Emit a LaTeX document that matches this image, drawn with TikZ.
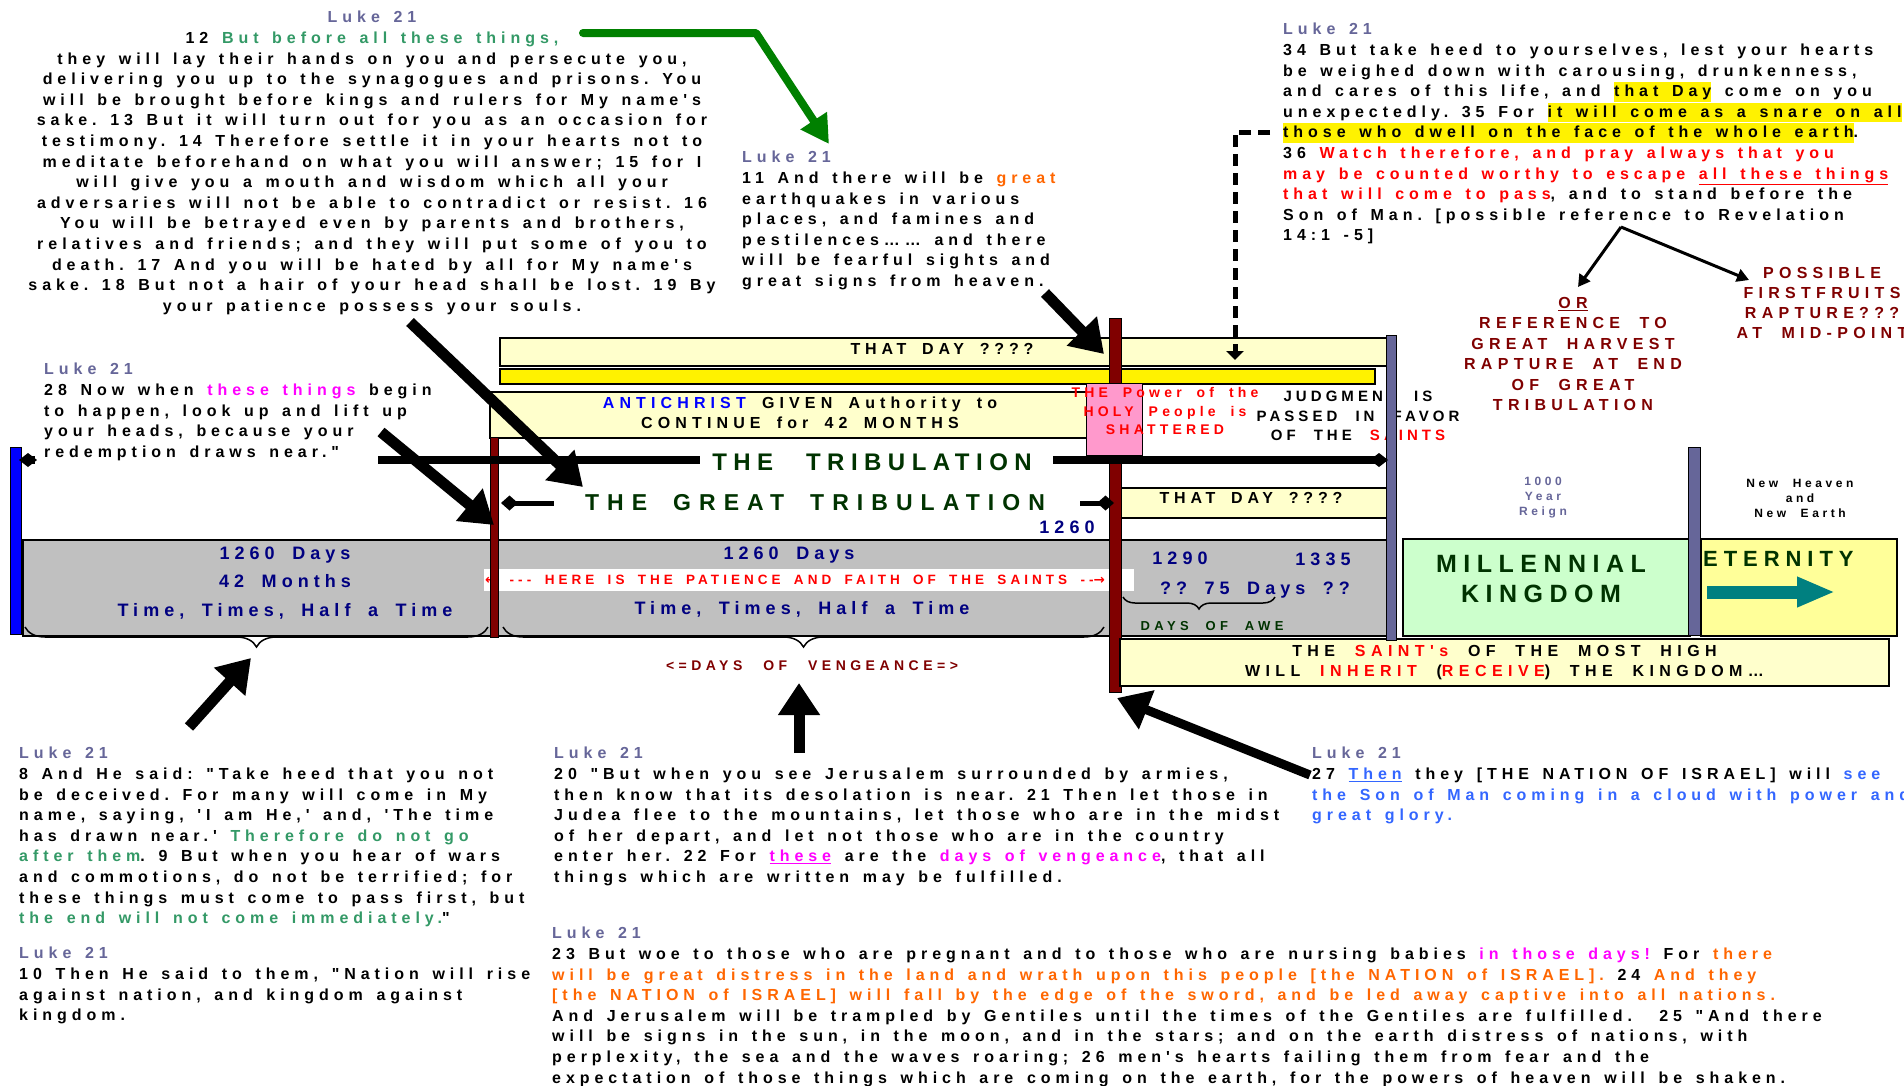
\documentclass[tikz,border=0pt]{standalone}
\usepackage{fontspec}
\setmainfont{Liberation Sans}[Ligatures=TeXOff]
\newfontfamily\arrowfont{DejaVu Sans}
\usetikzlibrary{arrows.meta,decorations.pathreplacing}

\definecolor{lukeblue}{HTML}{666699}
\definecolor{versegreen}{HTML}{339966}
\definecolor{verseorange}{HTML}{FF6600}
\definecolor{versepink}{HTML}{FF00FF}
\definecolor{verseblue}{HTML}{3366FF}
\definecolor{antiblue}{HTML}{0000FF}
\definecolor{deepred}{HTML}{800000}
\definecolor{navyblue}{HTML}{000080}
\definecolor{titlegreen}{HTML}{003300}
\definecolor{paleyellow}{HTML}{FFFFCC}
\definecolor{barpurple}{HTML}{666699}
\definecolor{bandgray}{HTML}{C0C0C0}
\definecolor{holypink}{HTML}{FF99CC}
\definecolor{kingdomgreen}{HTML}{CCFFCC}
\definecolor{eternyellow}{HTML}{FFFF99}
\definecolor{arrowteal}{HTML}{008080}
\definecolor{arrowgreen}{HTML}{008000}

\newcommand\spaced[2]{\addfontfeatures{LetterSpace=#1}\spaceskip=#2\fontdimen2\font\relax\xspaceskip=\spaceskip}
\newcommand\capsfont[4][1.45]{\fontsize{#2}{#3}\selectfont\bfseries\spaced{#4}{#1}}
\newcommand\marked[1]{{\setlength\fboxsep{0pt}\colorbox{yellow}{\rule[-5pt]{0pt}{19.5pt}#1}}}

\begin{document}
\begin{tikzpicture}[x=1pt,y=-1pt,
    verse/.style={font=\capsfont{16}{20.6}{31}, align=left, anchor=north west, inner sep=0pt},
    title/.style={inner sep=0pt, align=center},
    panel/.style={draw=black, line width=2pt, anchor=north west, inner sep=0pt},
    post/.style={draw=black, line width=0.6pt, anchor=north west, inner sep=0pt},
    tribline/.style={line width=8pt},
    greatline/.style={line width=5pt},
    bigarrow/.style={line width=11pt, -{Triangle[length=32pt,width=40pt]}},
    thinarrow/.style={line width=3pt, -{Triangle[length=12pt,width=13pt]}},
    brace/.style={decorate, decoration={brace, mirror, amplitude=#1}, line width=1.5pt}]
    \useasboundingbox (0,0) rectangle (1904,1085);
    \fill[white] (0,0) rectangle (1904,1085);

    % timeline
    \node[panel, fill=bandgray, minimum width=1365, minimum height=96] (band) at (22,539) {};
    \node[panel, fill=paleyellow, minimum width=887, minimum height=28] (dayTop) at (499,337) {};
    \node[title, font={\capsfont[1.7]{16}{16}{30}}] (dayTopText) at (942,349) {THAT DAY ????};
    \node[panel, fill=yellow, minimum width=875, minimum height=15] (yellowBar) at (499,368) {};
    \node[panel, fill=paleyellow, minimum width=597, minimum height=46] (antiBox) at (489,391) {};
    \node[title, font={\capsfont[1.7]{16}{20}{32}}] (antiText) at (800,413) {\textcolor{antiblue}{ANTICHRIST} GIVEN Authority to\\CONTINUE for 42 MONTHS};
    \node[panel, fill=paleyellow, minimum width=274, minimum height=30] (dayLow) at (1114,487) {};
    \node[title, font={\capsfont[1.7]{16}{16}{30}}] (dayLowText) at (1251,498) {THAT DAY ????};
    \node[anchor=north west, fill=white, minimum width=650, minimum height=22, inner sep=0pt] (patience) at (484,569) {};
    \node[title, text=red, font={\capsfont[1.7]{13.5}{13.5}{30}}] (patienceText) at (795,580) {{\arrowfont ←} ---\quad HERE IS THE PATIENCE AND FAITH OF THE SAINTS --{\arrowfont →}};

    \node[post, fill=deepred, minimum width=8, minimum height=200] (redA) at (490,437) {};
    \node[post, fill=deepred, minimum width=12, minimum height=374] (redB) at (1109,318) {};
    \node[post, fill=holypink, minimum width=56, minimum height=72] (holy) at (1086,383) {};
    \node[post, fill=blue, minimum width=11, minimum height=187] (blueBar) at (10,447) {};
    \node[title, text=red, font={\capsfont[1.85]{14}{18.5}{30}}] (holyText) at (1165,411) {THE Power of the\\HOLY People is\\SHATTERED};
    \node[title, font={\capsfont[2.2]{15}{19.5}{27}}] (judgment) at (1358,416) {JUDGMENT IS\\PASSED IN FAVOR\\OF THE \textcolor{red}{SAINTS}};

    % kingdom and eternity
    \node[panel, fill=kingdomgreen, minimum width=287, minimum height=97] (kingdom) at (1402,538) {};
    \node[title, text=titlegreen, font=\capsfont{25}{30}{26}] (kingdomText) at (1541,579) {MILLENNIAL\\KINGDOM};
    \node[panel, fill=eternyellow, minimum width=196, minimum height=97] (eternity) at (1700,538) {};
    \node[title, anchor=west, text=titlegreen, font=\capsfont{22}{22}{27}] (eternityText) at (1703,559) {ETERNITY};
    \node[panel, fill=paleyellow, minimum width=769, minimum height=47, align=center, font={\capsfont[2]{16}{20}{34}}] (saints) at (1119,638) {THE \textcolor{red}{SAINT's} OF THE MOST HIGH\\WILL \textcolor{red}{INHERIT} (\textcolor{red}{RECEIVE}) THE KINGDOM…};
    \node[post, fill=barpurple, minimum width=10, minimum height=305] (purpleA) at (1386,335) {};
    \node[post, fill=barpurple, minimum width=12, minimum height=188] (purpleB) at (1688,447) {};
    \node[title, text=lukeblue, font={\capsfont[2.1]{12}{15}{30}}] (reign) at (1543,498) {1000\\Year\\Reign};
    \node[title, font={\capsfont[2.1]{12}{15}{30}}] (newEarth) at (1800,498) {New Heaven\\and\\New Earth};

    % band labels
    \node[title, text=navyblue, font={\capsfont[1.75]{18}{28.5}{28}}] (firstHalf) at (285,583) {1260 Days\\42 Months\\Time, Times, Half a Time};
    \node[title, text=navyblue, font={\capsfont[1.75]{18}{18}{28}}] (secondDays) at (789,555) {1260 Days};
    \node[title, text=navyblue, font={\capsfont[1.75]{18}{18}{28}}] (secondTime) at (802,609) {Time, Times, Half a Time};
    \node[title, text=navyblue, font=\capsfont{18}{18}{28}] (endMark) at (1067,527) {1260};
    \node[title, text=navyblue, font=\capsfont{18}{18}{28}] (dayA) at (1180,558) {1290};
    \node[title, text=navyblue, font=\capsfont{18}{18}{28}] (dayB) at (1323,559) {1335};
    \node[title, text=navyblue, font={\capsfont[1.75]{18}{18}{28}}] (awe) at (1255,590) {?? 75 Days ??};
    \node[title, text=titlegreen, font={\capsfont[2.1]{13}{13}{34}}] (aweText) at (1212,626) {DAYS OF AWE};
    \node[title, text=deepred, font={\capsfont[2.5]{14}{14}{32}}] (vengeance) at (812,666) {<=DAYS OF VENGEANCE=>};

    % tribulation lines
    \coordinate (tribL) at (19,460);
    \coordinate (tribStub) at (35,460);
    \coordinate (tribGap) at (378,460);
    \coordinate (tribTL) at (700,460);
    \coordinate (tribTR) at (1053,460);
    \coordinate (tribR) at (1388,460);
    \draw[tribline, {Diamond[length=18pt,width=14pt]}-] (tribL) -- (tribStub);
    \draw[tribline] (tribGap) -- (tribTL);
    \draw[tribline, -{Diamond[length=18pt,width=14pt]}] (tribTR) -- (tribR);
    \node[title, text=titlegreen, font={\capsfont[2.5]{24}{24}{27}}] (trib) at (872,462) {THE TRIBULATION};
    \coordinate (greatL) at (501,503);
    \coordinate (greatTL) at (554,503);
    \coordinate (greatTR) at (1080,503);
    \coordinate (greatR) at (1114,503);
    \draw[greatline, {Diamond[length=17pt,width=15pt]}-] (greatL) -- (greatTL);
    \draw[greatline, -{Diamond[length=17pt,width=15pt]}] (greatTR) -- (greatR);
    \node[title, text=titlegreen, font={\capsfont[1.8]{23}{23}{35}}] (great) at (815,503) {THE GREAT TRIBULATION};

    % braces
    \draw[brace=20pt] (25,627) -- (488,627);
    \draw[brace=20pt] (503,627) -- (1104,627);
    \draw[brace=12pt] (1123,597) -- (1275,597);

    % verses
    \node[verse, align=center, anchor=north] (lukeTop) at (372,11) {\textcolor{lukeblue}{Luke 21}\\
        12 \textcolor{versegreen}{But before all these things,}\\
        they will lay their hands on you and persecute you,\\
        delivering you up to the synagogues and prisons. You\\
        will be brought before kings and rulers for My name's\\
        sake. 13 But it will turn out for you as an occasion for\\
        testimony. 14 Therefore settle it in your hearts not to\\
        meditate beforehand on what you will answer; 15 for I\\
        will give you a mouth and wisdom which all your\\
        adversaries will not be able to contradict or resist. 16\\
        You will be betrayed even by parents and brothers,\\
        relatives and friends; and they will put some of you to\\
        death. 17 And you will be hated by all for My name's\\
        sake. 18 But not a hair of your head shall be lost. 19 By\\
        your patience possess your souls.};
    \node[verse] (lukeSigns) at (742,151) {\textcolor{lukeblue}{Luke 21}\\
        11 And there will be \textcolor{verseorange}{great}\\
        earthquakes in various\\
        places, and famines and\\
        pestilences…… and there\\
        will be fearful sights and\\
        great signs from heaven.};
    \node[verse] (lukeWatch) at (1283,23) {\textcolor{lukeblue}{Luke 21}\\
        34 But take heed to yourselves, lest your hearts\\
        be weighed down with carousing, drunkenness,\\
        and cares of this life, and \marked{that Day} come on you\\
        unexpectedly. 35 For \marked{it will come as a snare on all}\\
        \marked{those who dwell on the face of the whole earth}.\\
        36 \textcolor{red}{Watch therefore, and pray always that you}\\
        \textcolor{red}{may be counted worthy to escape \underline{all these things}}\\
        \textcolor{red}{that will come to pass}, and to stand before the\\
        Son of Man. [possible reference to Revelation\\
        14:1 -5]};
    \node[verse] (lukeNear) at (44,363) {\textcolor{lukeblue}{Luke 21}\\
        28 Now when \textcolor{versepink}{these things} begin\\
        to happen, look up and lift up\\
        your heads, because your\\
        redemption draws near."};
    \node[verse] (lukeDeceived) at (19,747) {\textcolor{lukeblue}{Luke 21}\\
        8 And He said: "Take heed that you not\\
        be deceived. For many will come in My\\
        name, saying, 'I am He,' and, 'The time\\
        has drawn near.' \textcolor{versegreen}{Therefore do not go}\\
        \textcolor{versegreen}{after them}. 9 But when you hear of wars\\
        and commotions, do not be terrified; for\\
        these things must come to pass first, but\\
        \textcolor{versegreen}{the end will not come immediately.}"};
    \node[verse] (lukeNation) at (19,947) {\textcolor{lukeblue}{Luke 21}\\
        10 Then He said to them, "Nation will rise\\
        against nation, and kingdom against\\
        kingdom.};
    \node[verse] (lukeArmies) at (554,747) {\textcolor{lukeblue}{Luke 21}\\
        20 "But when you see Jerusalem surrounded by armies,\\
        then know that its desolation is near. 21 Then let those in\\
        Judea flee to the mountains, let those who are in the midst\\
        of her depart, and let not those who are in the country\\
        enter her. 22 For \textcolor{versepink}{\underline{these}} are the \textcolor{versepink}{days of vengeance}, that all\\
        things which are written may be fulfilled.};
    \node[verse] (lukeWoe) at (552,927) {\textcolor{lukeblue}{Luke 21}\\
        23 But woe to those who are pregnant and to those who are nursing babies \textcolor{versepink}{in those days!} For \textcolor{verseorange}{there}\\
        \textcolor{verseorange}{will be great distress in the land and wrath upon this people [the NATION of ISRAEL].} 24 \textcolor{verseorange}{And they}\\
        \textcolor{verseorange}{[the NATION of ISRAEL] will fall by the edge of the sword, and be led away captive into all nations.}\\
        And Jerusalem will be trampled by Gentiles until the times of the Gentiles are fulfilled.\ \ 25 "And there\\
        will be signs in the sun, in the moon, and in the stars; and on the earth distress of nations, with\\
        perplexity, the sea and the waves roaring; 26 men's hearts failing them from fear and the\\
        expectation of those things which are coming on the earth, for the powers of heaven will be shaken.};
    \node[verse] (lukeSon) at (1312,747) {\textcolor{lukeblue}{Luke 21}\\
        27 \textcolor{verseblue}{\underline{Then}} they [THE NATION OF ISRAEL] will \textcolor{verseblue}{see}\\
        \textcolor{verseblue}{the Son of Man coming in a cloud with power and}\\
        \textcolor{verseblue}{great glory.}};

    % rapture notes
    \node[title, text=deepred, font={\capsfont[2]{16}{20.4}{33}}] (harvest) at (1573,354) {\underline{OR}\\REFERENCE TO\\GREAT HARVEST\\RAPTURE AT END\\OF GREAT\\TRIBULATION};
    \node[title, text=deepred, font={\capsfont[2]{16}{20}{33}}] (firstfruits) at (1822,303) {POSSIBLE\\FIRSTFRUITS\\RAPTURE???\\AT MID-POINT};

    % arrows
    \coordinate (gS) at (583,33);
    \coordinate (gM) at (756,33);
    \coordinate (gE) at (829,144);
    \draw[arrowgreen, line width=8pt, line cap=round, line join=round, -{Triangle[length=28pt,width=30pt]}] (gS) -- (gM) -- (gE);
    \coordinate (dS) at (1270,132);
    \coordinate (dM) at (1235,132);
    \coordinate (dE) at (1235,360);
    \draw[line width=5pt, dash pattern=on 12pt off 7pt, -{Triangle[length=9pt,width=17pt]}] (dS) -- (dM) -- (dE);
    \coordinate (rS) at (1621,227);
    \coordinate (rOr) at (1578,287);
    \coordinate (rFirst) at (1749,280);
    \draw[thinarrow] (rS) -- (rOr);
    \draw[thinarrow] (rS) -- (rFirst);
    \coordinate (aPatS) at (410,322);
    \coordinate (aPatE) at (583,487);
    \coordinate (aHeavS) at (1045,293);
    \coordinate (aHeavE) at (1104,354);
    \coordinate (aNearS) at (381,432);
    \coordinate (aNearE) at (494,525);
    \coordinate (aDecS) at (189,727);
    \coordinate (aDecE) at (251,658);
    \coordinate (aArmS) at (799,753);
    \coordinate (aArmE) at (799,683);
    \coordinate (aSonS) at (1310,775);
    \coordinate (aSonE) at (1117,698);
    \draw[bigarrow] (aPatS) -- (aPatE);
    \draw[bigarrow] (aHeavS) -- (aHeavE);
    \draw[bigarrow] (aNearS) -- (aNearE);
    \draw[bigarrow] (aDecS) -- (aDecE);
    \draw[bigarrow] (aArmS) -- (aArmE);
    \draw[bigarrow, line width=9pt] (aSonS) -- (aSonE);
    \coordinate (eternS) at (1707,592);
    \coordinate (eternE) at (1835,592);
    \draw[arrowteal, line width=13pt, -{Triangle[length=38pt,width=28pt]}] (eternS) -- (eternE);
\end{tikzpicture}
\end{document}
